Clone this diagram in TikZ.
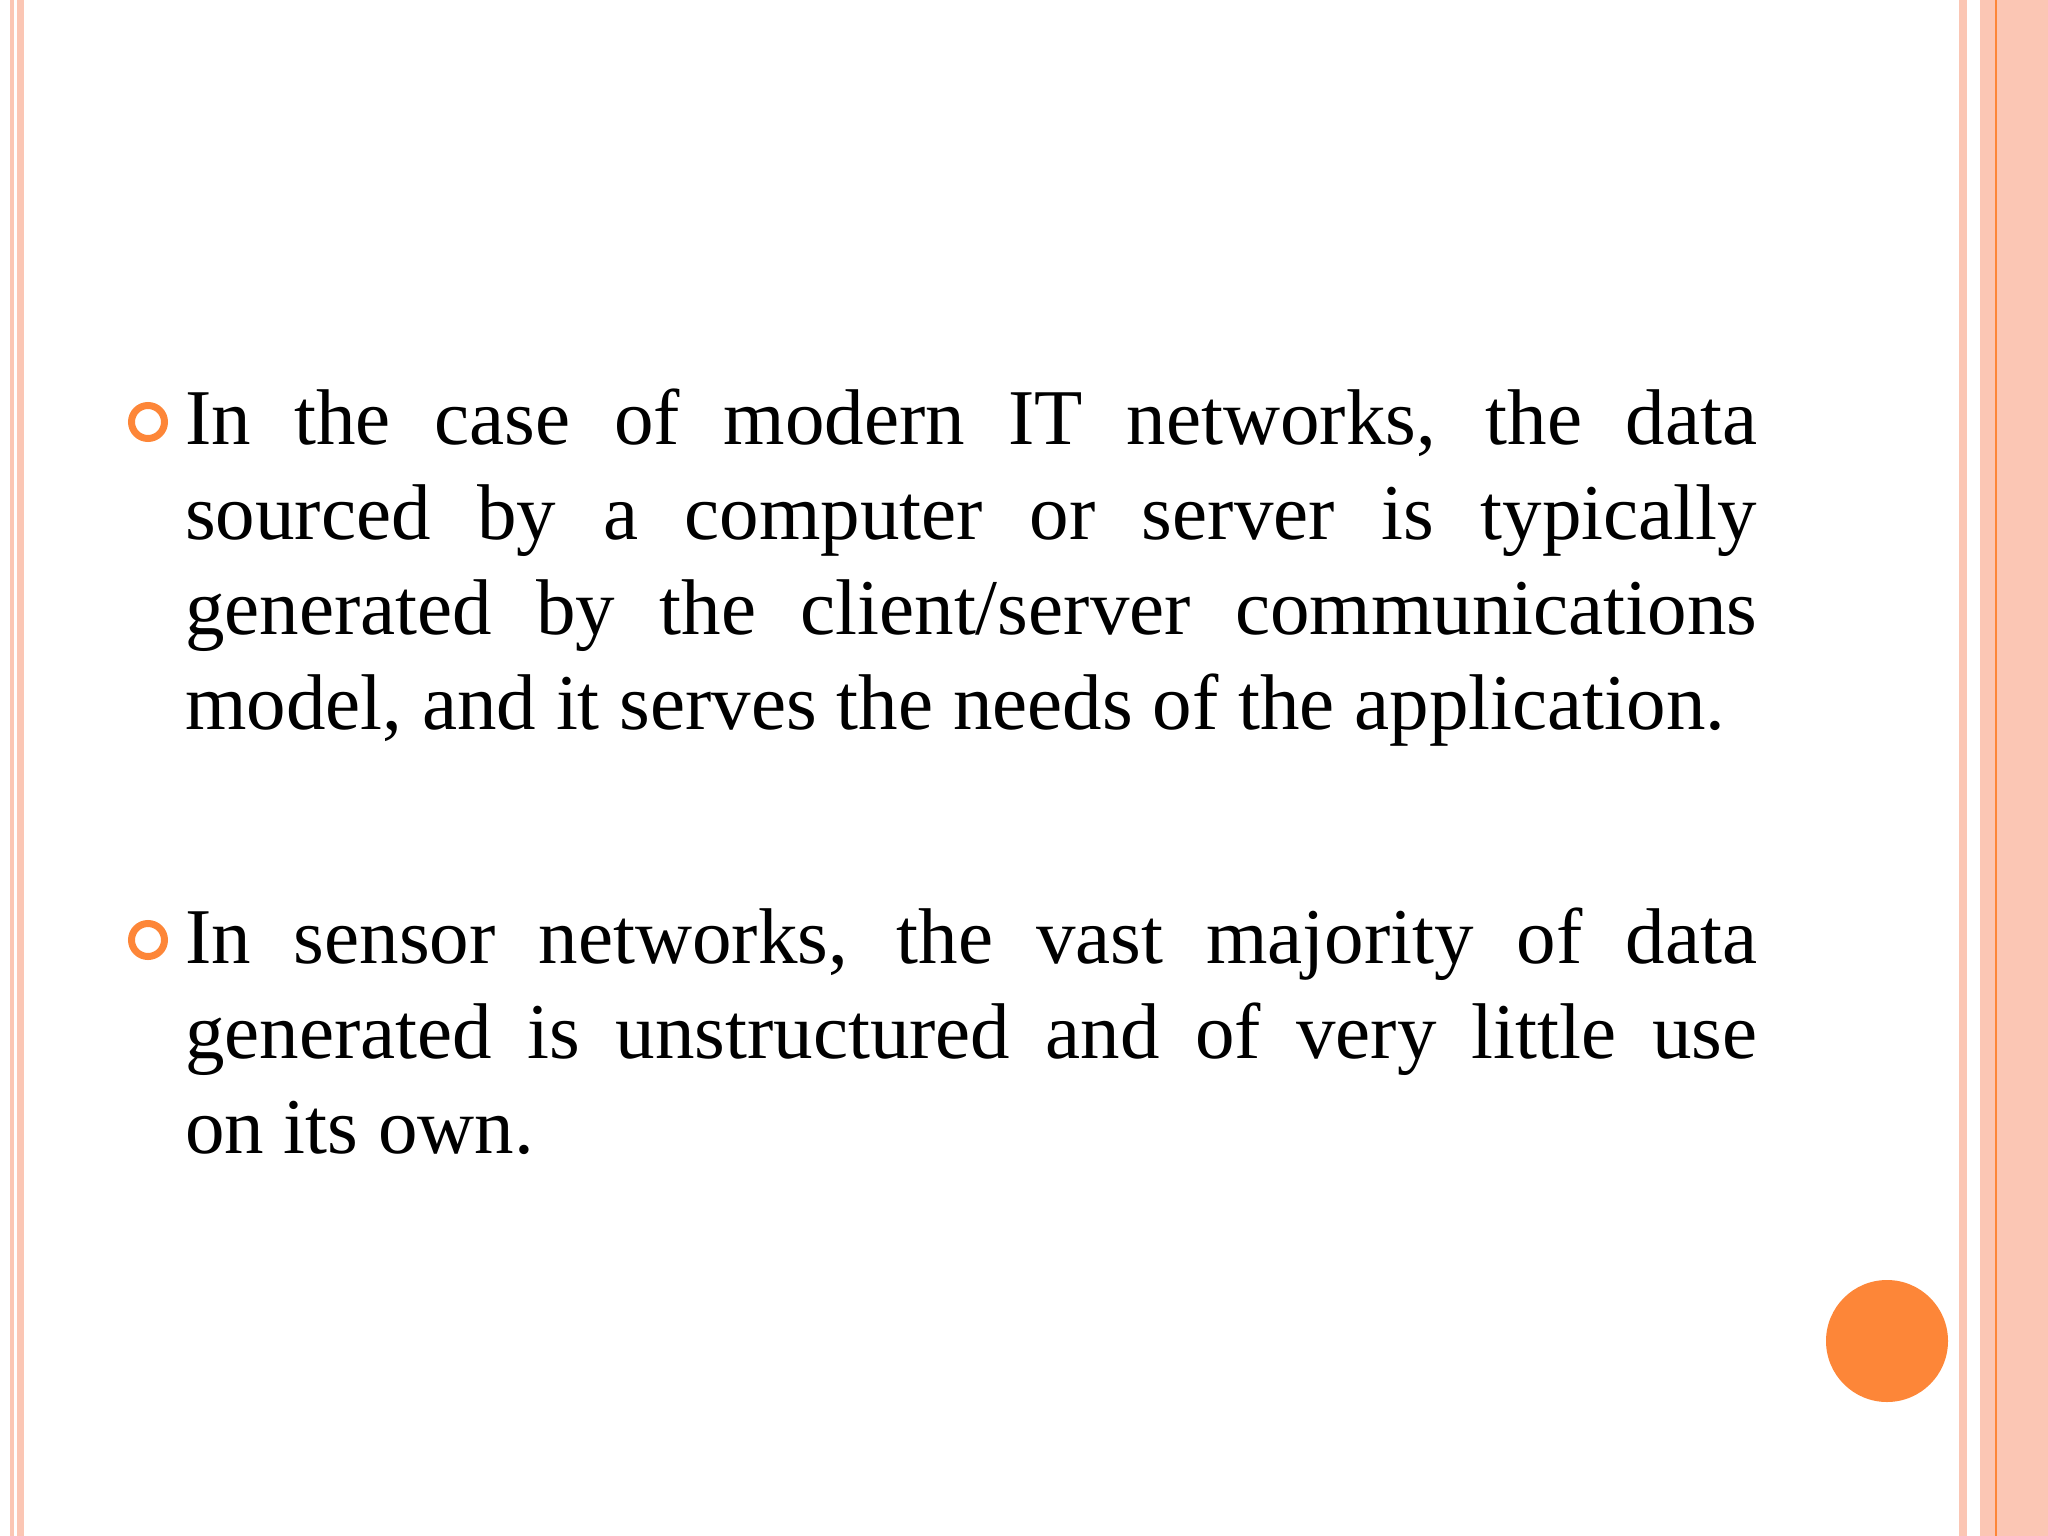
\documentclass[tikz,border=0pt]{standalone}
\usepackage{fontspec}
\setmainfont{Liberation Serif}
\definecolor{pinkb}{RGB}{251,198,180}
\definecolor{orng}{RGB}{253,134,56}
\begin{document}
\begin{tikzpicture}[x=1pt,y=1pt,
  ln/.style={anchor=base west,inner sep=0pt,font=\fontsize{79}{95}\selectfont},
  bul/.style={circle,draw=orng,line width=7pt,minimum size=33pt,inner sep=0pt}]
\useasboundingbox (0,0) rectangle (2048,-1536);
\fill[white] (0,0) rectangle (2048,-1536);
% left stripes
\fill[pinkb] (10,0) rectangle (14,-1536);
\fill[pinkb] (17,0) rectangle (24,-1536);
% right stripes
\fill[pinkb] (1959,0) rectangle (1967,-1536);
\fill[pinkb] (1980,0) rectangle (2048,-1536);
\draw[orng,line width=1.5pt] (1996,0) -- (1996,-1536);
\node[circle,fill=orng,minimum size=122pt,inner sep=0pt] (dot) at (1887,-1341) {};
% bullets
\node[bul] (b1) at (148,-422) {};
\node[bul] (b2) at (148,-940) {};
\def\W{1572pt}
\node[ln] (l1) at (185,-444) {\makebox[\W][s]{In the case of modern IT networks, the data}};
\node[ln] (l2) at (185,-539) {\makebox[\W][s]{sourced by a computer or server is typically}};
\node[ln] (l3) at (185,-634) {\makebox[\W][s]{generated by the client/server communications}};
\node[ln] (l4) at (185,-729) {model, and it serves the needs of the application.};
\node[ln] (m1) at (185,-963) {\makebox[\W][s]{In sensor networks, the vast majority of data}};
\node[ln] (m2) at (185,-1058) {\makebox[\W][s]{generated is unstructured and of very little use}};
\node[ln] (m3) at (185,-1153) {on its own.};
\end{tikzpicture}
\end{document}
